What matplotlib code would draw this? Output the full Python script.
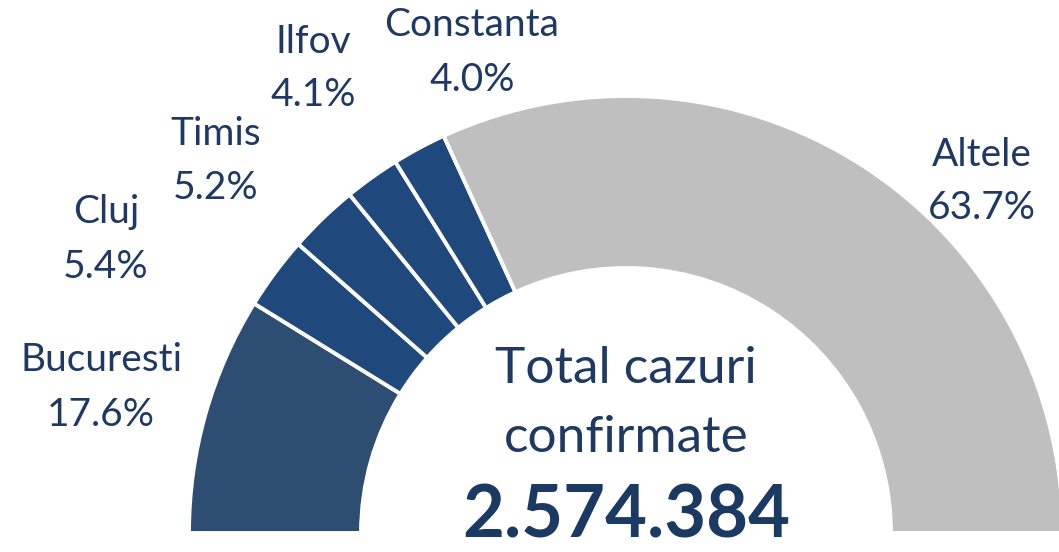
import matplotlib
matplotlib.use('Agg')
import matplotlib.pyplot as plt

# data
judete = ['Bucuresti', 'Cluj', 'Timis', 'Ilfov', 'Constanta', 'Altele']
procente = [17.6, 5.4, 5.2, 4.1, 4.0, 63.7]
total_cazuri = '2.574.384'

culori = ['#2E4D73', '#1F497D', '#1F497D', '#1F497D', '#1F497D', '#BFBFBF']
text_color = '#1F3864'

# label positions in image pixels (x, y of name line, y of percent line)
label_pos = [(101, 360, 415), (106, 212, 267), (216, 134, 188),
             (313, 42, 95), (472, 25, 80), (982, 155, 208)]

W, H = 1059, 552
plt.rcParams['font.family'] = ['Lato', 'DejaVu Sans']

fig = plt.figure(figsize=(W / 100, H / 100), dpi=100)
ax = fig.add_axes([0, 0, 1, 1])

def py(y):
    # image y (top-down) to data y (bottom-up)
    return H - y

cx, cy = 626, py(533)
r_out, r_in = 437, 265

# half donut: the hidden second half fills the lower 180 degrees
ax.pie(procente + [sum(procente)], colors=culori + ['none'],
       startangle=180, counterclock=False, center=(cx, cy), radius=r_out,
       wedgeprops=dict(width=r_out - r_in, edgecolor='white', linewidth=2.8))
ax.patches[-1].set_edgecolor('none')

for name, p, (x, y1, y2) in zip(judete, procente, label_pos):
    ax.text(x, py(y1), name, ha='center', va='center', fontsize=28, color=text_color)
    ax.text(x, py(y2), f'{p:.1f}%', ha='center', va='center', fontsize=28, color=text_color)

ax.text(cx, py(383), 'Total cazuri', ha='center', va='baseline', fontsize=37, color=text_color)
ax.text(cx, py(452), 'confirmate', ha='center', va='baseline', fontsize=37, color=text_color)
# keep the big number inside the canvas (bbox includes font descent)
ax.text(cx, py(551), total_cazuri, ha='center', va='bottom', fontsize=52,
        fontweight='bold', color='#1B3A63')

ax.set_xlim(0, W)
ax.set_ylim(0, H)
ax.set_aspect('equal')
ax.axis('off')

fig.savefig('out.png', dpi=100, facecolor='white')
